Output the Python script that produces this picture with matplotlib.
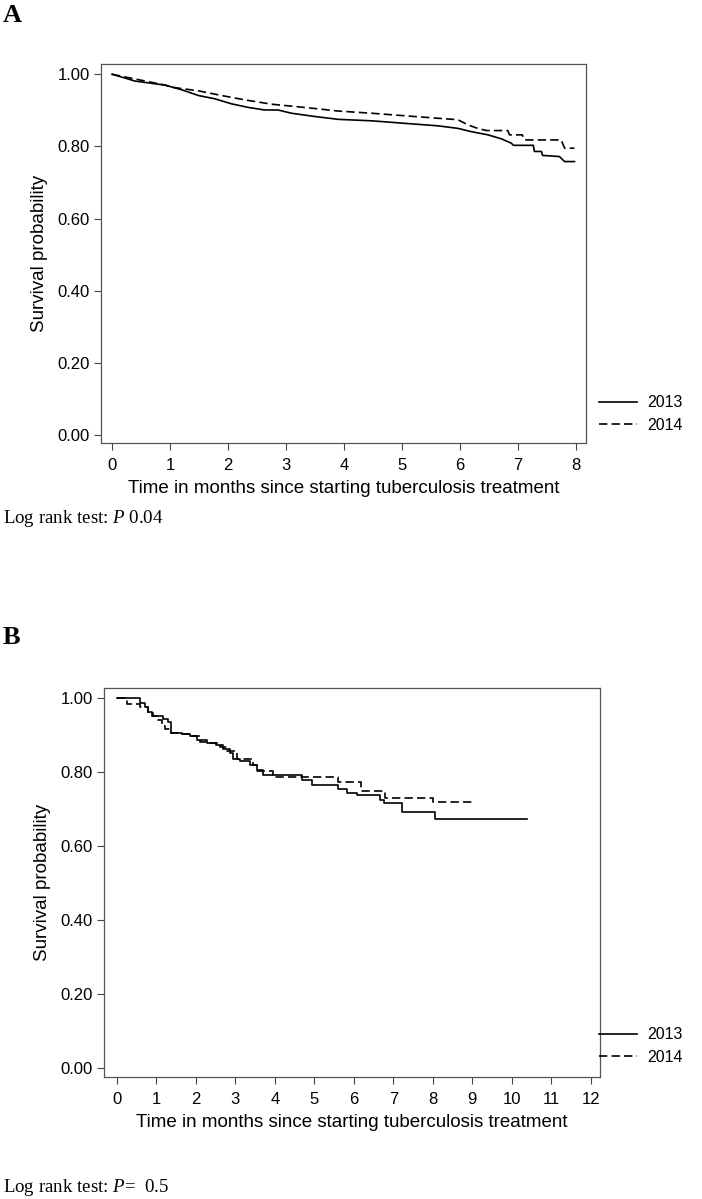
import matplotlib
matplotlib.use("Agg")
import matplotlib.pyplot as plt

plt.rcParams['font.family'] = ['Liberation Sans', 'DejaVu Sans']
plt.rcParams['mathtext.fontset'] = 'custom'
plt.rcParams['mathtext.rm'] = 'Liberation Serif'
plt.rcParams['mathtext.it'] = 'Liberation Serif:italic'

# panel A: many small steps, so the readings are joined directly
a_t_2013 = [0, 0.40, 0.91, 1.20, 1.49, 1.77, 2.06, 2.35, 2.63, 2.86, 3.09, 3.49, 3.90, 4.47,
            5.04, 5.62, 5.96, 6.19, 6.48, 6.71, 6.88, 6.92, 7.26, 7.28, 7.40, 7.42, 7.71,
            7.80, 7.97]
a_s_2013 = [1.0, 0.981, 0.970, 0.957, 0.941, 0.932, 0.918, 0.908, 0.901, 0.901, 0.892, 0.883,
            0.875, 0.871, 0.864, 0.857, 0.850, 0.841, 0.832, 0.821, 0.809, 0.803, 0.803, 0.786,
            0.786, 0.775, 0.772, 0.758, 0.758]
a_t_2014 = [0, 0.91, 1.08, 1.49, 1.89, 2.29, 2.75, 3.32, 3.90, 4.47, 5.04, 5.62, 5.96, 6.13,
            6.30, 6.45, 6.82, 6.85, 7.07, 7.11, 7.74, 7.80, 7.97]
a_s_2014 = [1.0, 0.970, 0.963, 0.954, 0.941, 0.929, 0.917, 0.908, 0.898, 0.892, 0.885, 0.878,
            0.874, 0.860, 0.850, 0.844, 0.844, 0.832, 0.832, 0.818, 0.818, 0.795, 0.795]

# panel B: Kaplan-Meier steps
b_t_2013 = [0, 0.58, 0.71, 0.79, 0.88, 1.17, 1.30, 1.38, 1.64, 1.85, 2.02, 2.27, 2.52, 2.69,
            2.86, 2.95, 3.11, 3.37, 3.54, 3.70, 4.68, 4.93, 5.60, 5.82, 6.07, 6.66, 6.75, 7.21,
            8.05, 10.38]
b_s_2013 = [1.0, 0.986, 0.975, 0.961, 0.952, 0.942, 0.935, 0.906, 0.902, 0.897, 0.886, 0.877,
            0.872, 0.863, 0.850, 0.836, 0.831, 0.818, 0.806, 0.791, 0.778, 0.764, 0.755, 0.744,
            0.738, 0.724, 0.715, 0.693, 0.673, 0.673]
b_t_2014 = [0, 0.25, 0.58, 0.79, 0.92, 1.05, 1.13, 1.21, 1.38, 1.64, 1.85, 2.10, 2.35, 2.61,
            2.78, 3.03, 3.45, 3.54, 3.96, 5.60, 6.19, 6.80, 8.01, 9.02]
b_s_2014 = [1.0, 0.984, 0.975, 0.960, 0.950, 0.940, 0.925, 0.915, 0.906, 0.902, 0.897, 0.880,
            0.878, 0.867, 0.856, 0.836, 0.818, 0.804, 0.787, 0.772, 0.749, 0.729, 0.719, 0.719]

years = ['2013', '2014']
yticks = [0, 0.2, 0.4, 0.6, 0.8, 1.0]

fig = plt.figure(figsize=(7.02, 11.99), dpi=100)


def km_panel(rect, t1, s1, t2, s2, xmax, xlim, ylim, leg_y, steps):
    ax = fig.add_axes(rect)
    ds = 'steps-post' if steps else 'default'
    ax.plot(t1, s1, drawstyle=ds, color='black', lw=1.2, label=years[0])
    ax.plot(t2, s2, drawstyle=ds, color='black', lw=1.2, linestyle=(0, (5, 2.5)), label=years[1])
    ax.set_xlim(xlim)
    ax.set_ylim(ylim)
    ax.set_xticks(range(0, xmax + 1))
    ax.set_yticks(yticks)
    ax.set_yticklabels(['%.2f' % v for v in yticks])
    ax.tick_params(labelsize=12, length=5, width=0.8, color='#444444')
    ax.tick_params(axis='x', pad=6)
    ax.tick_params(axis='y', pad=3)
    for sp in ax.spines.values():
        sp.set_color('#555555')
        sp.set_linewidth(0.9)
    ax.set_xlabel('Time in months since starting tuberculosis treatment', fontsize=13.5, labelpad=5)
    ax.set_ylabel('Survival probability', fontsize=13.5, labelpad=7)
    fig.legend(handles=ax.get_lines(), loc='center left', bbox_to_anchor=(0.853, leg_y),
               bbox_transform=fig.transFigure, frameon=False, fontsize=11.5,
               handlelength=2.4, handletextpad=0.65, labelspacing=0.45,
               borderpad=0, borderaxespad=0)
    return ax


km_panel([0.1439, 0.6305, 0.691, 0.316], a_t_2013, a_s_2013, a_t_2014, a_s_2014,
         8, (-0.19, 8.17), (-0.022, 1.028), 0.6547, False)
km_panel([0.148, 0.1018, 0.7066, 0.3244], b_t_2013, b_s_2013, b_t_2014, b_s_2014,
         12, (-0.33, 12.23), (-0.024, 1.027), 0.1276, True)

fig.text(0.004, 1 - 15 / 1199, 'A', family='Liberation Serif', weight='bold', fontsize=19,
         va='center', ha='left')
fig.text(0.004, 1 - 637 / 1199, 'B', family='Liberation Serif', weight='bold', fontsize=19,
         va='center', ha='left')
fig.text(0.004, 1 - 518 / 1199, r'Log rank test: $P$ 0.04', family='Liberation Serif',
         fontsize=13.6, va='center', ha='left')
fig.text(0.004, 1 - 1188 / 1199, r'Log rank test: $P$=  0.5', family='Liberation Serif',
         fontsize=13.6, va='center', ha='left')

fig.savefig('out.png', dpi=100)
